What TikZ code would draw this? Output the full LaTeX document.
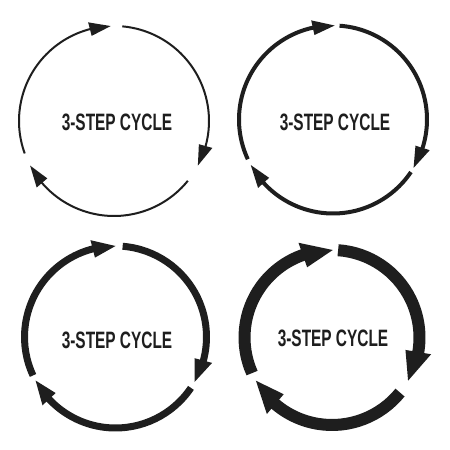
\documentclass[tikz,border=0pt]{standalone}
\usepackage{fontspec}
\setmainfont{Liberation Sans}
\usetikzlibrary{calc}
\definecolor{ink}{HTML}{1E1E1E}

\begin{document}
\begin{tikzpicture}[x=1pt,y=1pt,
    cyclelabel/.style={font=\bfseries\fontsize{23.7}{24}\selectfont, text=ink, xscale=0.65, inner sep=0pt},
    ring/.style={draw=ink, line cap=butt},
    head/.style={fill=ink}]
\useasboundingbox (0,0) rectangle (450,450);

% top left, thin
\coordinate (c1) at (114,329);
\foreach \s/\e in {200/92, 85/-28, 321/208}{
  \pgfmathsetmacro\b{\e+12.7}
  \draw[ring, line width=2pt] (c1) ++({\s}:95) arc[start angle=\s, end angle=\b-0.5, radius=95];
  \fill[head] ($(c1)+(\e:95)$) -- ($(c1)+(\b:102)$) -- ($(c1)+(\b:88)$) -- cycle;
}
\node[cyclelabel] (t1) at (117,328) {3-STEP CYCLE};

% top right
\coordinate (c2) at (333,330.5);
\foreach \s/\e in {205/89, 86/-31, 326/209}{
  \pgfmathsetmacro\b{\e+13.4}
  \draw[ring, line width=4pt] (c2) ++({\s}:94) arc[start angle=\s, end angle=\b-0.5, radius=94];
  \fill[head] ($(c2)+(\e:94)$) -- ($(c2)+(\b:101.5)$) -- ($(c2)+(\b:86.5)$) -- cycle;
}
\node[cyclelabel] (t2) at (335,328) {3-STEP CYCLE};

% bottom left
\coordinate (c3) at (115.5,113);
\foreach \s/\e in {205/90, 85.5/-29.5, 326/208.6}{
  \pgfmathsetmacro\b{\e+14.5}
  \draw[ring, line width=7pt] (c3) ++({\s}:91) arc[start angle=\s, end angle=\b-0.5, radius=91];
  \fill[head] ($(c3)+(\e:91)$) -- ($(c3)+(\b:100)$) -- ($(c3)+(\b:82)$) -- cycle;
}
\node[cyclelabel] (t3) at (117,110) {3-STEP CYCLE};

% bottom right, thick
\coordinate (c4) at (332,112.5);
\foreach \s/\e in {204/89.5, 86/-29.6, 321/209.6}{
  \pgfmathsetmacro\b{\e+20}
  \draw[ring, line width=12pt] (c4) ++({\s}:87.5) arc[start angle=\s, end angle=\b-0.5, radius=87.5];
  \fill[head] ($(c4)+(\e:87.5)$) -- ($(c4)+(\b:100.5)$) -- ($(c4)+(\b:74.5)$) -- cycle;
}
\node[cyclelabel] (t4) at (333,112) {3-STEP CYCLE};

\end{tikzpicture}
\end{document}
